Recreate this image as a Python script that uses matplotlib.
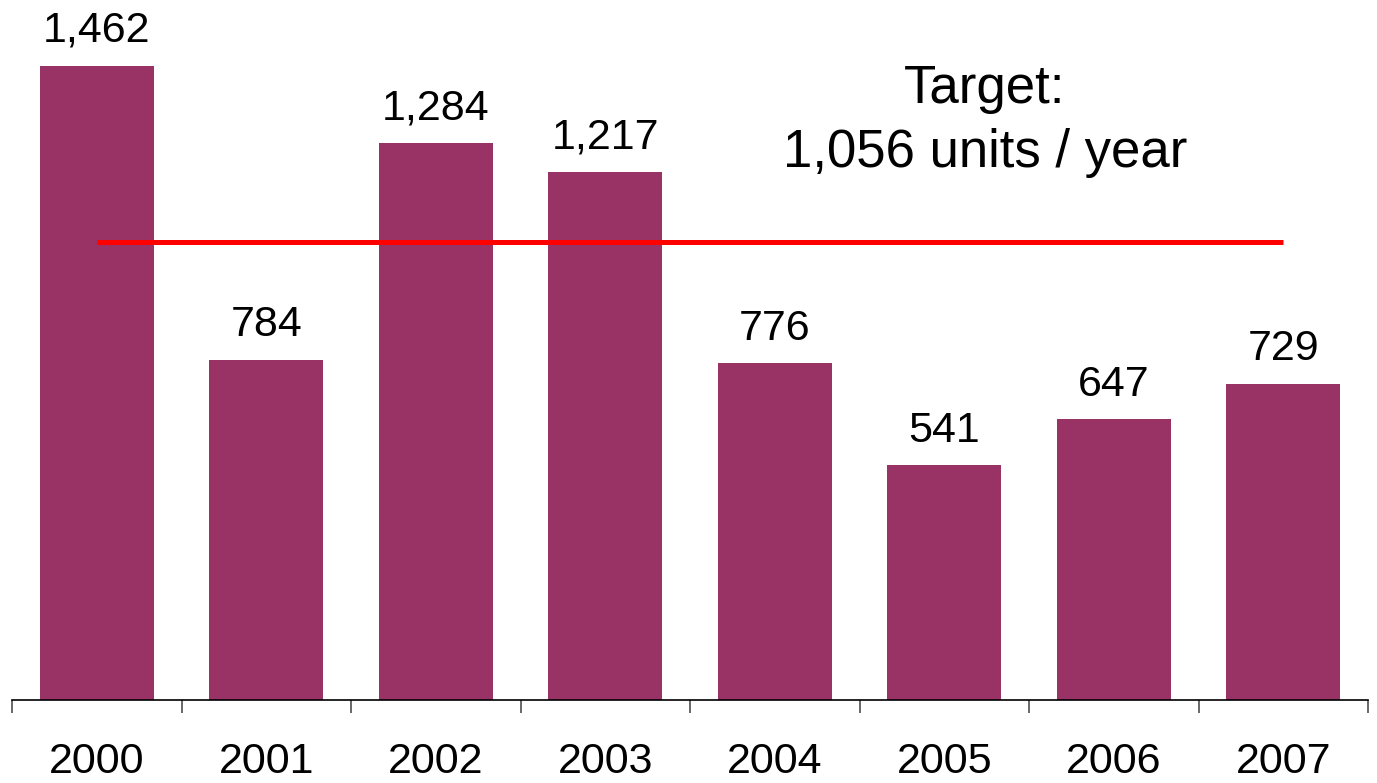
import matplotlib.pyplot as plt

# data
years = ['2000', '2001', '2002', '2003', '2004', '2005', '2006', '2007']
units = [1462, 784, 1284, 1217, 776, 541, 647, 729]
target = 1056

plt.rcParams['font.family'] = ['Liberation Sans', 'DejaVu Sans']

fig = plt.figure(figsize=(13.77, 7.83), dpi=100)
ax = fig.add_axes([12 / 1377, 83 / 783, 1356 / 1377, 700 / 783])

x = range(len(years))
bars = ax.bar(x, units, width=0.67, color='#993366', zorder=2)

# value labels above the bars
for xi, v in zip(x, units):
    ax.annotate(f'{v:,}', (xi, v), xytext=(0, 17), textcoords='offset points',
                ha='center', va='baseline', fontsize=31)

# target line from first to last bar centre
ax.hlines(target, 0, len(years) - 1, color='red', linewidth=3.6, zorder=3)
ax.text(5.24, 1376, 'Target:', ha='center', va='baseline', fontsize=38)
ax.text(5.24, 1228, f'{target:,} units / year', ha='center', va='baseline', fontsize=38)

ax.set_xlim(-0.5, len(years) - 0.5)
ax.set_ylim(0, 1613)

# axes: only the bottom line, ticks between categories
for s in ['top', 'right', 'left']:
    ax.spines[s].set_visible(False)
ax.spines['bottom'].set_linewidth(1.2)
ax.set_yticks([])
ax.set_xticks(list(x))
ax.set_xticklabels(years, fontsize=31)
ax.tick_params(axis='x', which='major', length=0, pad=30)
ax.set_xticks([i - 0.5 for i in range(len(years) + 1)], minor=True)
ax.tick_params(axis='x', which='minor', length=9.5, width=1.1, color='#404040', direction='out')

fig.savefig('out.png', dpi=100)
